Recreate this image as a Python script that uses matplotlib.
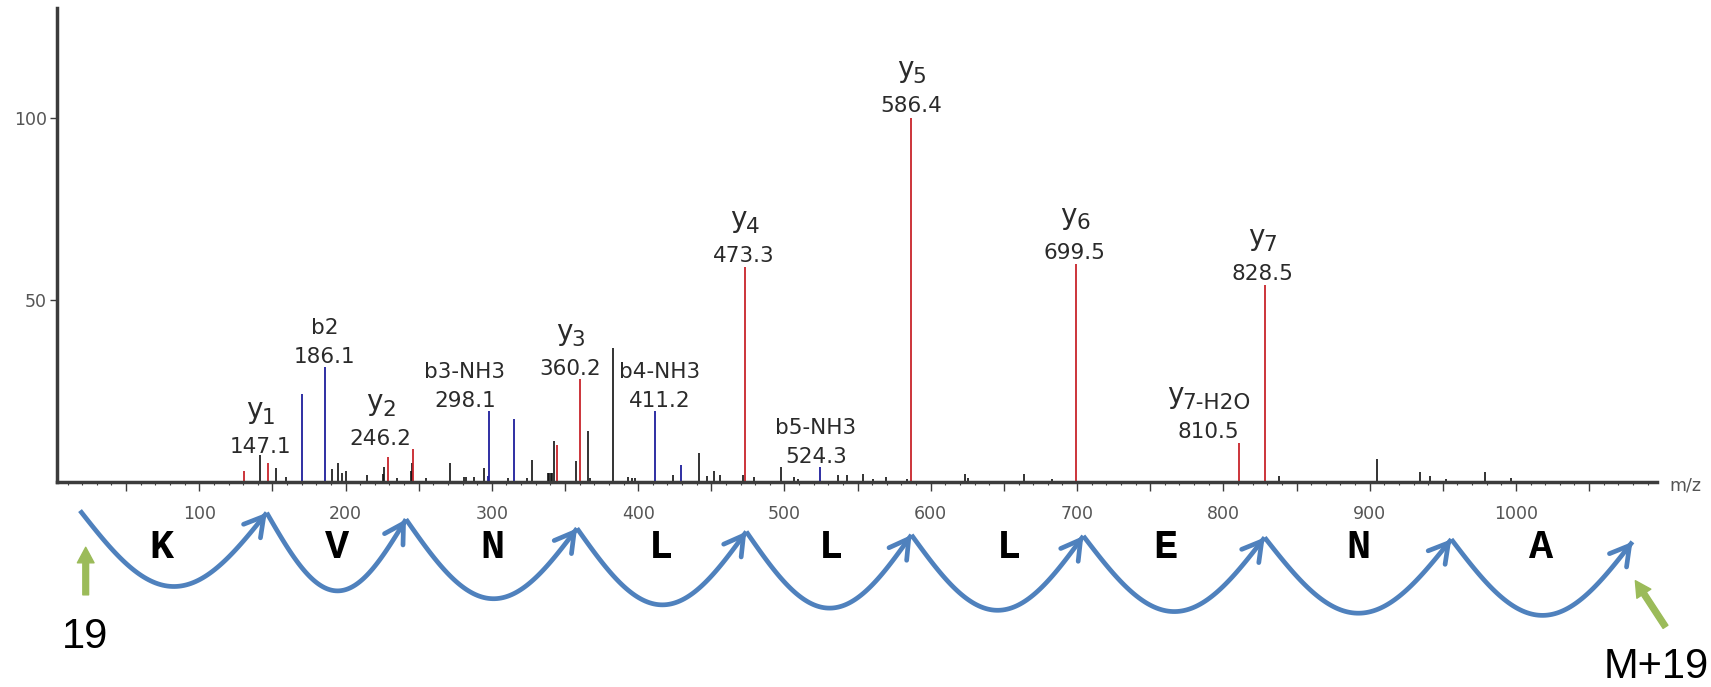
import numpy as np
import matplotlib
matplotlib.use("Agg")
import matplotlib.pyplot as plt
from matplotlib.ticker import MultipleLocator

plt.rcParams['font.family'] = ['DejaVu Sans']

# y-ion peaks (red), m/z and relative intensity
y_mz = [130.8, 147.1, 229.2, 246.2, 344.3, 360.2, 473.3, 586.4, 699.5, 810.5, 828.5]
y_int = [3.0, 5.2, 6.8, 8.9, 10.0, 28.2, 59.1, 100.0, 60.0, 10.5, 54.1]

# b-ion peaks (blue)
b_mz = [170.0, 186.1, 297.3, 298.1, 315.1, 411.2, 429.0, 524.3]
b_int = [24.0, 31.4, 1.5, 19.5, 17.2, 19.5, 4.5, 4.1]

# unassigned peaks (black)
other_mz = [141.5, 152.4, 159.3, 190.5, 194.6, 197.3, 200.0, 215.0, 225.4, 226.2,
            234.9, 244.4, 245.1, 255.0, 271.4, 281.0, 282.3, 287.8, 294.6, 311.2,
            323.8, 327.6, 338.3, 339.3, 340.3, 341.3, 342.5, 357.5, 365.5, 367.0,
            383.0, 393.2, 395.5, 397.8, 423.6, 441.6, 446.8, 452.0, 455.9, 471.4,
            479.4, 497.4, 506.5, 509.0, 536.8, 542.5, 553.4, 560.5, 569.4, 583.5,
            623.4, 625.6, 663.8, 683.0, 837.7, 904.8, 934.6, 941.5, 952.2, 978.8,
            996.7]
other_int = [7.3, 3.6, 1.3, 3.4, 5.2, 2.3, 2.9, 1.8, 2.2, 4.1,
             0.9, 3.0, 5.0, 0.9, 5.2, 1.3, 1.2, 1.3, 3.6, 0.9,
             0.9, 5.9, 2.3, 2.3, 2.3, 2.3, 11.2, 5.7, 14.0, 1.0,
             36.7, 1.2, 1.0, 0.9, 1.9, 7.9, 1.4, 2.9, 1.7, 1.7,
             1.2, 4.1, 1.2, 0.8, 1.7, 1.7, 2.1, 0.6, 1.2, 0.8,
             2.1, 0.9, 2.1, 0.8, 1.5, 6.3, 2.5, 1.5, 0.8, 2.5,
             1.0]

# peak annotations
ion_names = ['y1', 'b2', 'y2', 'b3-NH3', 'y3', 'b4-NH3', 'y4', 'b5-NH3',
             'y5', 'y6', 'y7-H2O', 'y7']
ion_masses = ['147.1', '186.1', '246.2', '298.1', '360.2', '411.2', '473.3',
              '524.3', '586.4', '699.5', '810.5', '828.5']
label_mz = [142.0, 185.6, 224.0, 281.5, 353.5, 414.5, 472.5, 521.5,
            586.6, 698.5, 790.0, 826.5]
label_int = [6.4, 31.3, 8.7, 19.2, 27.9, 19.2, 59.1, 3.8,
             100.3, 60.0, 10.5, 54.1]

# sequence ladder under the axis
residues = ['K', 'V', 'N', 'L', 'L', 'L', 'E', 'N', 'A']
residue_mz = [74.3, 193.9, 300.4, 415.8, 532.0, 653.7, 760.6, 892.0, 1017.0]
arc_tip_mz = [18.5, 146.1, 241.3, 358.2, 473.9, 586.8, 704.3, 828.2, 955.8, 1079.6]
arc_tip_lvl = [-8.0, -8.6, -10.4, -12.9, -13.8, -14.7, -15.0, -15.4, -15.9, -16.6]
arc_depth = 20.6

RED = '#c8242b'
BLUE = '#1f1f9c'
ARC = '#4f81bd'
GREEN = '#9bbb59'
AXC = '#3c3c3c'
TXT = '#2a2a2a'
LBL = 15.5     # label font size
YBIG = 20      # the ion-type letter "y" is drawn larger

fig = plt.figure(figsize=(17.11, 6.87), dpi=100)
ax = fig.add_axes([56.6 / 1711, 205.5 / 687, 1600.7 / 1711, 473.2 / 687])
renderer = fig.canvas.get_renderer()


def width_pt(s, size):
    tmp = fig.text(0, 0, s, fontsize=size)
    w = tmp.get_window_extent(renderer).width * 72 / fig.dpi
    tmp.remove()
    return w


ax.vlines(other_mz, 0, other_int, color='#111111', lw=1.2)
ax.vlines(y_mz, 0, y_int, color=RED, lw=1.3)
ax.vlines(b_mz, 0, b_int, color=BLUE, lw=1.3)

ax.set_xlim(2.5, 1096.6)
ax.set_ylim(0, 130.25)

for s in ['top', 'right']:
    ax.spines[s].set_visible(False)
for s in ['left', 'bottom']:
    ax.spines[s].set_linewidth(2.5)
    ax.spines[s].set_color(AXC)

xt = np.arange(50, 1100, 50)
ax.set_xticks(xt)
ax.set_xticklabels([str(v) if v % 100 == 0 else '' for v in xt])
ax.xaxis.set_minor_locator(MultipleLocator(10))
ax.tick_params(axis='x', which='major', length=6.5, width=1, color=AXC,
               pad=10.5, labelsize=12.5, labelcolor='#555555')
ax.tick_params(axis='x', which='minor', length=2.5, width=0.8, color=AXC)
ax.set_yticks([50, 100])
ax.tick_params(axis='y', length=5, width=1, color=AXC, pad=2,
               labelsize=12.5, labelcolor='#555555')

ax.annotate('m/z', xy=(1, 0), xycoords='axes fraction', xytext=(8.5, -3),
            textcoords='offset points', ha='left', va='center',
            fontsize=12.5, color='#555555')

# ion labels: mass on the lower line, ion name above it
for name, mass, lx, ly in zip(ion_names, ion_masses, label_mz, label_int):
    ax.annotate(mass, (lx, ly), xytext=(0, 3.6), textcoords='offset points',
                ha='center', va='baseline', fontsize=LBL, color=TXT)
    if name.startswith('y'):
        rest = name[1:]
        wy = width_pt('y', YBIG)
        wr = width_pt(rest, LBL)
        join = (wy - wr) / 2
        ax.annotate('y', (lx, ly), xytext=(join + 0.5, 24.6 + 4.2),
                    textcoords='offset points', ha='right', va='baseline',
                    fontsize=YBIG, color=TXT)
        ax.annotate(rest, (lx, ly), xytext=(join, 24.6),
                    textcoords='offset points', ha='left', va='baseline',
                    fontsize=LBL, color=TXT)
    else:
        ax.annotate(name, (lx, ly), xytext=(0, 24.6), textcoords='offset points',
                    ha='center', va='baseline', fontsize=LBL, color=TXT)

# scalloped ladder with arrowheads
t = np.linspace(0, 1, 80)
for i in range(len(arc_tip_mz) - 1):
    x0, x1 = arc_tip_mz[i], arc_tip_mz[i + 1]
    y0, y1 = arc_tip_lvl[i], arc_tip_lvl[i + 1]
    xs = x0 + (x1 - x0) * t
    ys = y0 + (y1 - y0) * t - arc_depth * np.sin(np.pi * t)
    ax.plot(xs, ys, color=ARC, lw=3.4, clip_on=False, solid_capstyle='butt')
    ax.annotate('', xy=(xs[-1], ys[-1]), xytext=(xs[-3], ys[-3]),
                arrowprops=dict(arrowstyle='->,head_length=0.45,head_width=0.26',
                                color=ARC, lw=3.4, shrinkA=0, shrinkB=0,
                                mutation_scale=30),
                annotation_clip=False)

for res, rx in zip(residues, residue_mz):
    ax.text(rx, -18.1, res, ha='center', va='center', fontsize=29,
            fontweight='bold', family='Liberation Mono', color='black',
            clip_on=False)

# terminal markers
green_style = 'simple,head_length=0.7,head_width=0.75,tail_width=0.26'
ax.annotate('', xy=(22.4, -18.1), xytext=(22.4, -31.2),
            arrowprops=dict(arrowstyle=green_style, color=GREEN,
                            shrinkA=0, shrinkB=0, mutation_scale=16),
            annotation_clip=False)
ax.annotate('', xy=(1081.6, -27.3), xytext=(1102.2, -40.0),
            arrowprops=dict(arrowstyle=green_style, color=GREEN,
                            shrinkA=0, shrinkB=0, mutation_scale=16),
            annotation_clip=False)
ax.text(22.1, -42.7, '19', ha='center', va='center', fontsize=30,
        family='Liberation Sans', color='black', clip_on=False)
ax.text(1060.0, -51.1, 'M+19', ha='left', va='center', fontsize=30,
        family='Liberation Sans', color='black', clip_on=False)

fig.savefig('out.png', dpi=100)
